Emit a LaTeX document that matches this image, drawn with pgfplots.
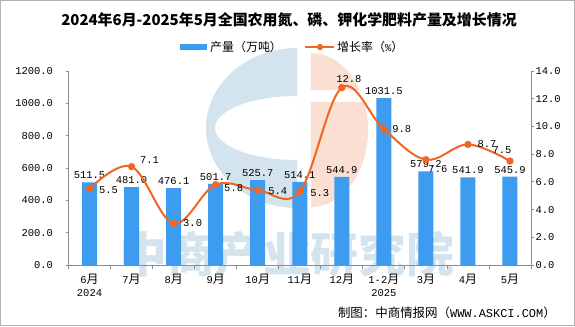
\documentclass[border=0pt]{standalone}
\usepackage{fontspec}
\usepackage{pgfplots}
\usepackage{pgfplotstable}
\pgfplotsset{compat=1.18}
\setmainfont{Noto Sans CJK SC}
\newfontfamily\mono{Liberation Mono}
\newcommand\num[1]{{\mono\fontsize{10.5}{13}\selectfont #1}}
\definecolor{barblue}{RGB}{61,155,240}
\definecolor{lineorange}{RGB}{242,101,34}
\definecolor{axisgray}{RGB}{140,140,140}
\definecolor{wmblue}{RGB}{212,228,239}
\definecolor{wmsalmon}{RGB}{250,223,210}

\pgfplotstableread{
x y
0 511.5
1 481.0
2 476.1
3 501.7
4 525.7
5 514.1
6 544.9
7 1031.5
8 579.2
9 541.9
10 545.9
}\outputtab

\pgfplotstableread{
x y
0 5.5
1 7.1
2 3.0
3 5.8
4 5.4
5 5.3
6 12.8
7 9.8
8 7.6
9 8.7
10 7.5
}\growthtab

\pgfkeys{/pgf/number format/.cd, fixed, fixed zerofill, precision=1, 1000 sep={}, assume math mode=true}
\pgfplotsset{lbl/.style 2 args={draw=none, mark=none, forget plot, point meta=y, nodes near coords,
  nodes near coords style={font=\mono\fontsize{10.5}{12}\selectfont, black, anchor=center, xshift=#1, yshift=#2}}}

\begin{document}
\begin{tikzpicture}[x=1bp,y=1bp]
\useasboundingbox (0,0) rectangle (575,326);
\draw[gray!60, line width=1bp] (0.5,0.5) rectangle (574.5,325.5);
% watermark logo
\fill[wmblue, even odd rule] (297,278) arc[start angle=90,end angle=270,x radius=91,y radius=80] -- cycle
  (297,230) arc[start angle=90,end angle=270,x radius=82,y radius=32] -- cycle;
\fill[wmsalmon] (311,273) arc[start angle=90,end angle=-90,x radius=57,y radius=77] -- cycle;
\fill[white] (309,236) rectangle (372,224);
\node[wmblue, font=\bfseries\fontsize{48}{48}\selectfont] at (287,72) {中商产业研究院};

% title and legend
\node[font=\bfseries\fontsize{15}{18}\selectfont] at (289,306) {2024年6月-2025年5月全国农用氮、磷、钾化学肥料产量及增长情况};
\fill[barblue] (180,276) rectangle (207,282);
\node[anchor=west, font=\fontsize{12}{14}\selectfont, inner sep=1bp] at (209,279) {产量（万吨）};
\draw[lineorange, line width=2.5bp] (305,279) -- (334,279);
\fill[lineorange] (320,279) circle (3.2bp);
\node[anchor=west, font=\fontsize{12}{14}\selectfont, inner sep=1bp] at (336,279) {增长率（\num{\%}）};
\node[anchor=east, font=\fontsize{12.5}{14}\selectfont, inner sep=0pt] at (556,13) {制图：中商情报网（{\mono\fontsize{12}{14}\selectfont WWW.ASKCI.COM}）};

\begin{axis}[
  at={(68.5bp,61bp)}, anchor=south west, scale only axis,
  width=462.5bp, height=194bp,
  xmin=-0.5, xmax=10.5, ymin=0, ymax=1200,
  axis y line*=left, axis x line*=bottom,
  axis line style={axisgray, line width=0.8bp},
  ybar, bar width=15bp,
  xtick={0,...,10},
  xticklabels={{\num{6}月\\\num{2024}},\num{7}月,\num{8}月,\num{9}月,\num{10}月,\num{11}月,\num{12}月,{\num{1-2}月\\\num{2025}},\num{3}月,\num{4}月,\num{5}月},
  xticklabel style={align=center, font=\fontsize{12}{13}\selectfont, yshift=-3bp},
  major x tick style={draw=none},
  minor xtick={-0.5,0.5,...,10.5},
  ytick={0,200,...,1200},
  tick align=outside, major tick length=3bp, minor tick length=4bp,
  every tick/.style={axisgray, line width=0.8bp},
  yticklabel style={font=\mono\fontsize{10.5}{12}\selectfont, xshift=-9bp},
  nodes near coords,
  nodes near coords style={font=\mono\fontsize{10.5}{12}\selectfont, black},
  clip=false,
]
\addplot[fill=barblue, draw=none] table[x=x,y=y] {\outputtab};
\end{axis}

\begin{axis}[
  at={(68.5bp,61bp)}, anchor=south west, scale only axis,
  width=462.5bp, height=194bp,
  xmin=-0.5, xmax=10.5, ymin=0, ymax=14,
  axis y line*=right, axis x line=none,
  axis line style={axisgray, line width=0.8bp},
  ytick={0,2,...,14},
  tick align=outside, major tick length=3bp,
  every tick/.style={axisgray, line width=0.8bp},
  yticklabel style={font=\mono\fontsize{10.5}{12}\selectfont, xshift=-2bp},
  clip=false,
]
\addplot[lineorange, line width=2bp, smooth, tension=0.6,
  mark=*, mark size=2.6bp, mark options={fill=lineorange, draw=lineorange, solid}]
  table[x=x,y=y] {\growthtab};
\addplot[lbl={19bp}{-1bp}] coordinates {(0,5.5)};
\addplot[lbl={18bp}{7bp}] coordinates {(1,7.1)};
\addplot[lbl={19bp}{0bp}] coordinates {(2,3.0)};
\addplot[lbl={18bp}{-3bp}] coordinates {(3,5.8)};
\addplot[lbl={20bp}{-1bp}] coordinates {(4,5.4)};
\addplot[lbl={20bp}{-1bp}] coordinates {(5,5.3)};
\addplot[lbl={7bp}{9bp}] coordinates {(6,12.8)};
\addplot[lbl={18bp}{0bp}] coordinates {(7,9.8)};
\addplot[lbl={12bp}{-9bp}] coordinates {(8,7.6)};
\addplot[lbl={19bp}{0bp}] coordinates {(9,8.7)};
\addplot[lbl={-8bp}{11bp}] coordinates {(10,7.5)};
\end{axis}
\end{tikzpicture}
\end{document}
